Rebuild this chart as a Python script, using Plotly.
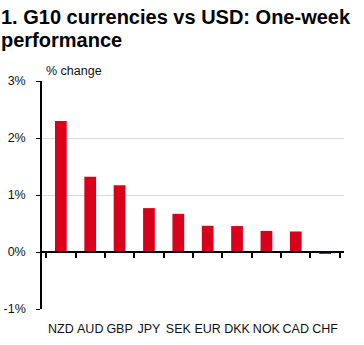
import plotly.graph_objects as go

currencies = ["NZD", "AUD", "GBP", "JPY", "SEK", "EUR", "DKK", "NOK", "CAD", "CHF"]
change_pct = [2.30, 1.32, 1.17, 0.77, 0.67, 0.46, 0.455, 0.37, 0.36, -0.02]
y_tick_vals = [-1, 0, 1, 2, 3]
y_tick_text = ["-1%", "0%", "1%", "2%", "3%"]

FONT = "Liberation Sans, Arial, sans-serif"
RED = "#d8001b"

fig = go.Figure()
fig.add_trace(go.Bar(
    x=currencies, y=change_pct, width=0.4,
    marker=dict(color=RED, line=dict(width=0)),
    hoverinfo="skip", showlegend=False,
))
# invisible companion trace to carry the zero-line axis with boundary ticks
fig.add_trace(go.Scatter(
    x=currencies, y=change_pct, xaxis="x2", mode="markers",
    marker=dict(opacity=0), hoverinfo="skip", showlegend=False,
))

fig.update_layout(
    width=364, height=345,
    margin=dict(l=42, r=20, t=81, b=36, autoexpand=False),
    paper_bgcolor="white", plot_bgcolor="white",
    font=dict(family=FONT, color="#000", size=13),
    bargap=0.6,
    xaxis=dict(
        type="category", showline=False, ticks="", showgrid=False,
        tickangle=0, automargin=False,
        tickfont=dict(size=12.5, color="#111"), ticklabelstandoff=10,
    ),
    xaxis2=dict(
        type="category", overlaying="x", anchor="free", position=0.25,
        matches="x", showticklabels=False, showline=True, linecolor="#000",
        linewidth=1.5, ticks="outside", tickson="boundaries", ticklen=5,
        tickwidth=1.5, tickcolor="#000", showgrid=False,
    ),
    yaxis=dict(
        range=[-1, 3], tickvals=y_tick_vals, ticktext=y_tick_text,
        showline=True, linecolor="#000", linewidth=1.5, automargin=False,
        ticks="outside", ticklen=4, tickwidth=1.2, tickcolor="#000",
        showgrid=True, gridcolor="#d9d9d9", gridwidth=1, zeroline=False,
        tickfont=dict(size=12.5, color="#111"), ticklabelstandoff=8,
    ),
    annotations=[
        dict(text="<b>1. G10 currencies vs USD: One-week</b>", xref="paper", yref="paper",
             x=-43/302, y=1 + (81-17)/228, xanchor="left", yanchor="middle",
             showarrow=False, font=dict(size=20, family=FONT, color="#000")),
        dict(text="<b>performance</b>", xref="paper", yref="paper",
             x=-43/302, y=1 + (81-40)/228, xanchor="left", yanchor="middle",
             showarrow=False, font=dict(size=20, family=FONT, color="#000")),
        dict(text="% change", xref="paper", yref="paper",
             x=2/302, y=1 + (81-70.5)/228, xanchor="left", yanchor="middle",
             showarrow=False, font=dict(size=12.5, family=FONT, color="#111")),
    ],
)

fig.write_html("out.html")
